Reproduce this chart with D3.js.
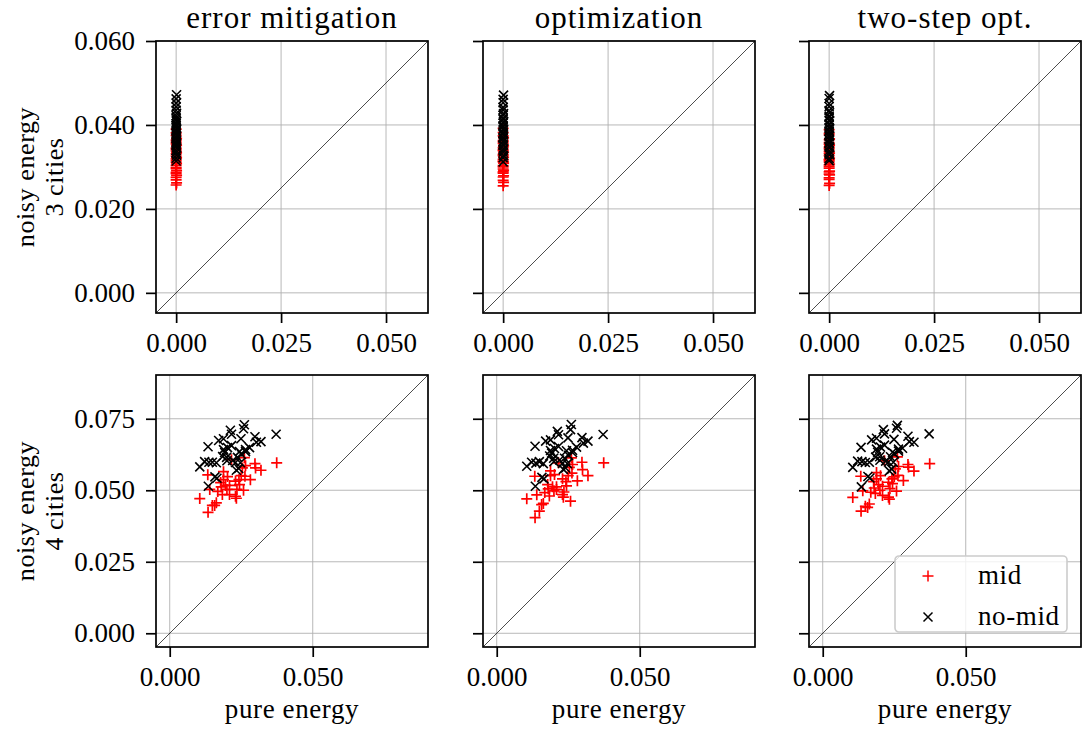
<!DOCTYPE html>
<html>
<head>
<meta charset="utf-8">
<script src="https://cdn.jsdelivr.net/npm/d3@7"></script>
<style>
  body { margin: 0; background: #fff; }
  text { font-family: "Liberation Serif", "Times New Roman", serif; fill: #000; }
</style>
</head>
<body>
<div id="chart"></div>
<script>
// column titles and row labels
const titles = ["error mitigation", "optimization", "two-step opt."];
const rowLabels = [["noisy energy", "3 cities"], ["noisy energy", "4 cities"]];

// tick values per row
const xTicks3 = [0, 0.025, 0.05];
const yTicks3 = [0, 0.02, 0.04, 0.06];
const xTicks4 = [0, 0.05];
const yTicks4 = [0, 0.025, 0.05, 0.075];

// 3 cities: pure energy is ~0 for every instance
const pure3Mid = [0.0000, 0.0001, 0.0000, 0.0000, 0.0001, 0.0000, 0.0000, 0.0001, 0.0000, 0.0000,
  0.0000, 0.0001, 0.0000, 0.0000, 0.0000, 0.0001, 0.0000, 0.0000, 0.0001, 0.0000,
  0.0000, 0.0000, 0.0001, 0.0000, 0.0000, 0.0000, 0.0001, 0.0000, 0.0000, 0.0000];
const noisy3MidEM = [0.0257, 0.0262, 0.0269, 0.0275, 0.0280, 0.0284, 0.0287, 0.0291, 0.0296, 0.0299,
  0.0304, 0.0308, 0.0311, 0.0315, 0.0319, 0.0322, 0.0326, 0.0331, 0.0334, 0.0338,
  0.0342, 0.0345, 0.0351, 0.0355, 0.0359, 0.0364, 0.0368, 0.0375, 0.0381, 0.0390];
const noisy3MidOpt = [0.0255, 0.0263, 0.0268, 0.0276, 0.0279, 0.0285, 0.0288, 0.0292, 0.0295, 0.0300,
  0.0303, 0.0309, 0.0312, 0.0314, 0.0318, 0.0323, 0.0327, 0.0330, 0.0335, 0.0339,
  0.0341, 0.0346, 0.0350, 0.0356, 0.0360, 0.0363, 0.0369, 0.0374, 0.0382, 0.0392];
const noisy3MidTwo = [0.0256, 0.0261, 0.0270, 0.0274, 0.0281, 0.0283, 0.0288, 0.0290, 0.0297, 0.0301,
  0.0305, 0.0307, 0.0312, 0.0316, 0.0318, 0.0321, 0.0327, 0.0332, 0.0333, 0.0337,
  0.0343, 0.0347, 0.0352, 0.0354, 0.0358, 0.0365, 0.0367, 0.0376, 0.0380, 0.0389];

const pure3NoMid = [0.0000, 0.0000, 0.0001, 0.0000, 0.0000, 0.0001, 0.0000, 0.0000, 0.0000, 0.0001,
  0.0000, 0.0000, 0.0001, 0.0000, 0.0000, 0.0000, 0.0001, 0.0000, 0.0000, 0.0000,
  0.0001, 0.0000, 0.0000, 0.0000, 0.0001, 0.0000, 0.0000, 0.0000, 0.0000, 0.0001];
const noisy3NoMidEM = [0.0314, 0.0321, 0.0328, 0.0334, 0.0339, 0.0345, 0.0350, 0.0355, 0.0359, 0.0363,
  0.0367, 0.0371, 0.0375, 0.0379, 0.0383, 0.0387, 0.0391, 0.0395, 0.0399, 0.0403,
  0.0408, 0.0412, 0.0417, 0.0422, 0.0428, 0.0435, 0.0443, 0.0452, 0.0462, 0.0472];
const noisy3NoMidOpt = [0.0312, 0.0322, 0.0327, 0.0335, 0.0340, 0.0344, 0.0351, 0.0354, 0.0360, 0.0362,
  0.0368, 0.0370, 0.0376, 0.0380, 0.0382, 0.0388, 0.0390, 0.0396, 0.0398, 0.0404,
  0.0407, 0.0413, 0.0416, 0.0423, 0.0427, 0.0436, 0.0442, 0.0453, 0.0461, 0.0471];
const noisy3NoMidTwo = [0.0315, 0.0320, 0.0329, 0.0333, 0.0338, 0.0346, 0.0349, 0.0356, 0.0358, 0.0364,
  0.0366, 0.0372, 0.0374, 0.0378, 0.0384, 0.0386, 0.0392, 0.0394, 0.0400, 0.0402,
  0.0409, 0.0411, 0.0418, 0.0421, 0.0429, 0.0434, 0.0444, 0.0451, 0.0463, 0.0470];

// 4 cities
const pure4Mid = [0.0105, 0.0134, 0.0157, 0.0163, 0.0149, 0.0140, 0.0133, 0.0188, 0.0195, 0.0180,
  0.0200, 0.0184, 0.0209, 0.0230, 0.0235, 0.0258, 0.0230, 0.0242, 0.0250, 0.0263,
  0.0282, 0.0254, 0.0261, 0.0216, 0.0298, 0.0300, 0.0319, 0.0374, 0.0233, 0.0188,
  0.0178, 0.0209, 0.0168, 0.0202, 0.0265, 0.0244];
const noisy4MidEM = [0.0471, 0.0423, 0.0447, 0.0456, 0.0447, 0.0503, 0.0554, 0.0537, 0.0517, 0.0512,
  0.0503, 0.0485, 0.0485, 0.0479, 0.0503, 0.0500, 0.0532, 0.0537, 0.0551, 0.0549,
  0.0537, 0.0578, 0.0614, 0.0607, 0.0593, 0.0578, 0.0570, 0.0596, 0.0472, 0.0565,
  0.0527, 0.0517, 0.0496, 0.0548, 0.0586, 0.0520];
const noisy4MidOpt = [0.0470, 0.0404, 0.0450, 0.0454, 0.0427, 0.0484, 0.0549, 0.0551, 0.0512, 0.0505,
  0.0498, 0.0480, 0.0503, 0.0485, 0.0494, 0.0462, 0.0540, 0.0530, 0.0551, 0.0560,
  0.0533, 0.0580, 0.0613, 0.0596, 0.0598, 0.0572, 0.0551, 0.0596, 0.0476, 0.0568,
  0.0520, 0.0512, 0.0492, 0.0555, 0.0590, 0.0515];
const noisy4MidTwo = [0.0475, 0.0427, 0.0440, 0.0452, 0.0444, 0.0498, 0.0549, 0.0540, 0.0520, 0.0508,
  0.0500, 0.0489, 0.0482, 0.0476, 0.0506, 0.0497, 0.0528, 0.0540, 0.0547, 0.0552,
  0.0534, 0.0575, 0.0617, 0.0603, 0.0590, 0.0581, 0.0567, 0.0593, 0.0469, 0.0562,
  0.0530, 0.0514, 0.0493, 0.0551, 0.0583, 0.0523];

const pure4NoMid = [0.0134, 0.0105, 0.0137, 0.0149, 0.0163, 0.0158, 0.0165, 0.0135, 0.0188, 0.0212,
  0.0216, 0.0261, 0.0258, 0.0249, 0.0298, 0.0303, 0.0319, 0.0372, 0.0188, 0.0192,
  0.0185, 0.0199, 0.0244, 0.0251, 0.0237, 0.0220, 0.0230, 0.0265, 0.0233, 0.0241,
  0.0200, 0.0265, 0.0247, 0.0216, 0.0171, 0.0122, 0.0202, 0.0279];
const noisy4NoMidEM = [0.0652, 0.0582, 0.0598, 0.0598, 0.0596, 0.0547, 0.0542, 0.0514, 0.0680, 0.0710,
  0.0696, 0.0729, 0.0715, 0.0680, 0.0687, 0.0668, 0.0670, 0.0696, 0.0642, 0.0632,
  0.0618, 0.0615, 0.0635, 0.0625, 0.0615, 0.0604, 0.0597, 0.0635, 0.0570, 0.0576,
  0.0603, 0.0642, 0.0596, 0.0656, 0.0674, 0.0600, 0.0649, 0.0649];
const noisy4NoMidOpt = [0.0654, 0.0584, 0.0595, 0.0600, 0.0593, 0.0545, 0.0540, 0.0514, 0.0676, 0.0706,
  0.0694, 0.0730, 0.0712, 0.0683, 0.0684, 0.0665, 0.0672, 0.0695, 0.0639, 0.0630,
  0.0620, 0.0612, 0.0638, 0.0622, 0.0612, 0.0606, 0.0594, 0.0632, 0.0573, 0.0578,
  0.0600, 0.0640, 0.0593, 0.0653, 0.0672, 0.0598, 0.0646, 0.0651];
const noisy4NoMidTwo = [0.0650, 0.0580, 0.0600, 0.0597, 0.0598, 0.0548, 0.0543, 0.0512, 0.0682, 0.0712,
  0.0697, 0.0727, 0.0717, 0.0678, 0.0689, 0.0670, 0.0668, 0.0697, 0.0644, 0.0633,
  0.0616, 0.0617, 0.0633, 0.0627, 0.0617, 0.0602, 0.0599, 0.0637, 0.0568, 0.0574,
  0.0605, 0.0644, 0.0598, 0.0658, 0.0676, 0.0602, 0.0651, 0.0647];

const noisyMid = [[noisy3MidEM, noisy3MidOpt, noisy3MidTwo], [noisy4MidEM, noisy4MidOpt, noisy4MidTwo]];
const noisyNoMid = [[noisy3NoMidEM, noisy3NoMidOpt, noisy3NoMidTwo], [noisy4NoMidEM, noisy4NoMidOpt, noisy4NoMidTwo]];
const pureMid = [pure3Mid, pure4Mid];
const pureNoMid = [pure3NoMid, pure4NoMid];

// layout
const width = 1086, height = 735;
const colLeft = [156, 483, 809];
const rowTop = [41, 375];
const size = 272;
const domains = [[-0.0048, 0.0600], [-0.0048, 0.0903]];
const xTickSets = [xTicks3, xTicks4];
const yTickSets = [yTicks3, yTicks4];
const fmt = d3.format(".3f");

const plusPath = "M-5.5,0H5.5M0,-5.5V5.5";
const crossPath = "M-4.5,-4.5L4.5,4.5M-4.5,4.5L4.5,-4.5";

const svg = d3.select("#chart").append("svg")
  .attr("width", width)
  .attr("height", height);

svg.append("rect").attr("width", width).attr("height", height).attr("fill", "#fff");

for (let r = 0; r < 2; r++) {
  for (let c = 0; c < 3; c++) {
    let x = d3.scaleLinear().domain(domains[r]).range([0, size]);
    let y = d3.scaleLinear().domain(domains[r]).range([size, 0]);

    let g = svg.append("g")
      .attr("transform", "translate(" + colLeft[c] + "," + rowTop[r] + ")");

    // grid
    g.selectAll("line.gx")
      .data(xTickSets[r])
      .enter().append("line")
      .attr("x1", d => x(d)).attr("x2", d => x(d))
      .attr("y1", 0).attr("y2", size)
      .attr("stroke", "#b0b0b0").attr("stroke-width", 0.9);
    g.selectAll("line.gy")
      .data(yTickSets[r])
      .enter().append("line")
      .attr("y1", d => y(d)).attr("y2", d => y(d))
      .attr("x1", 0).attr("x2", size)
      .attr("stroke", "#b0b0b0").attr("stroke-width", 0.9);

    // diagonal
    g.append("line")
      .attr("x1", x(domains[r][0])).attr("y1", y(domains[r][0]))
      .attr("x2", x(domains[r][1])).attr("y2", y(domains[r][1]))
      .attr("stroke", "#000").attr("stroke-width", 0.7);

    // mid markers
    let mid = d3.zip(pureMid[r], noisyMid[r][c]);
    g.selectAll("path.mid")
      .data(mid)
      .enter().append("path")
      .attr("d", plusPath)
      .attr("transform", d => "translate(" + x(d[0]) + "," + y(d[1]) + ")")
      .attr("fill", "none").attr("stroke", "#ff0000").attr("stroke-width", 1.7);

    // no-mid markers
    let noMid = d3.zip(pureNoMid[r], noisyNoMid[r][c]);
    g.selectAll("path.nomid")
      .data(noMid)
      .enter().append("path")
      .attr("d", crossPath)
      .attr("transform", d => "translate(" + x(d[0]) + "," + y(d[1]) + ")")
      .attr("fill", "none").attr("stroke", "#000").attr("stroke-width", 1.6);

    // frame
    g.append("rect")
      .attr("width", size).attr("height", size)
      .attr("fill", "none").attr("stroke", "#000").attr("stroke-width", 1.7);

    // ticks
    let xAxis = g.append("g")
      .attr("transform", "translate(0," + size + ")")
      .call(d3.axisBottom(x).tickValues(xTickSets[r]).tickSize(10).tickPadding(10).tickFormat(fmt));
    let yAxis = g.append("g")
      .call(d3.axisLeft(y).tickValues(yTickSets[r]).tickSize(10).tickPadding(11)
        .tickFormat(c === 0 ? fmt : ""));
    [xAxis, yAxis].forEach(a => {
      a.select(".domain").remove();
      a.selectAll(".tick line").attr("stroke", "#000").attr("stroke-width", 1.7);
      a.selectAll(".tick text")
        .attr("font-family", "Liberation Serif, serif")
        .attr("font-size", 27);
    });

    if (r === 0) {
      g.append("text")
        .attr("x", size / 2).attr("y", -13)
        .attr("text-anchor", "middle")
        .attr("font-size", 31)
        .attr("letter-spacing", 1)
        .text(titles[c]);
    } else {
      g.append("text")
        .attr("x", size / 2).attr("y", size + 71)
        .attr("text-anchor", "middle")
        .attr("font-size", 27)
        .attr("letter-spacing", 0.6)
        .text("pure energy");
    }

    if (c === 0) {
      rowLabels[r].forEach((t, i) => {
        g.append("text")
          .attr("transform", "translate(" + (-122 + i * 29) + "," + (size / 2) + ") rotate(-90)")
          .attr("text-anchor", "middle")
          .attr("font-size", 26)
          .attr("letter-spacing", 0.6)
          .text(t);
      });
    }
  }
}

// legend in last panel
let leg = svg.append("g").attr("transform", "translate(895,556)");
leg.append("rect")
  .attr("width", 172).attr("height", 76).attr("rx", 4)
  .attr("fill", "#fff").attr("fill-opacity", 0.8)
  .attr("stroke", "#cccccc").attr("stroke-width", 1.6);
const legendItems = [["mid", plusPath, "#ff0000"], ["no-mid", crossPath, "#000"]];
legendItems.forEach((d, i) => {
  leg.append("path")
    .attr("d", d[1])
    .attr("transform", "translate(33," + (20 + i * 41) + ")")
    .attr("fill", "none").attr("stroke", d[2]).attr("stroke-width", 1.5);
  leg.append("text")
    .attr("x", 83).attr("y", 28 + i * 41)
    .attr("font-size", 27)
    .attr("letter-spacing", 0.6)
    .text(d[0]);
});
</script>
</body>
</html>
